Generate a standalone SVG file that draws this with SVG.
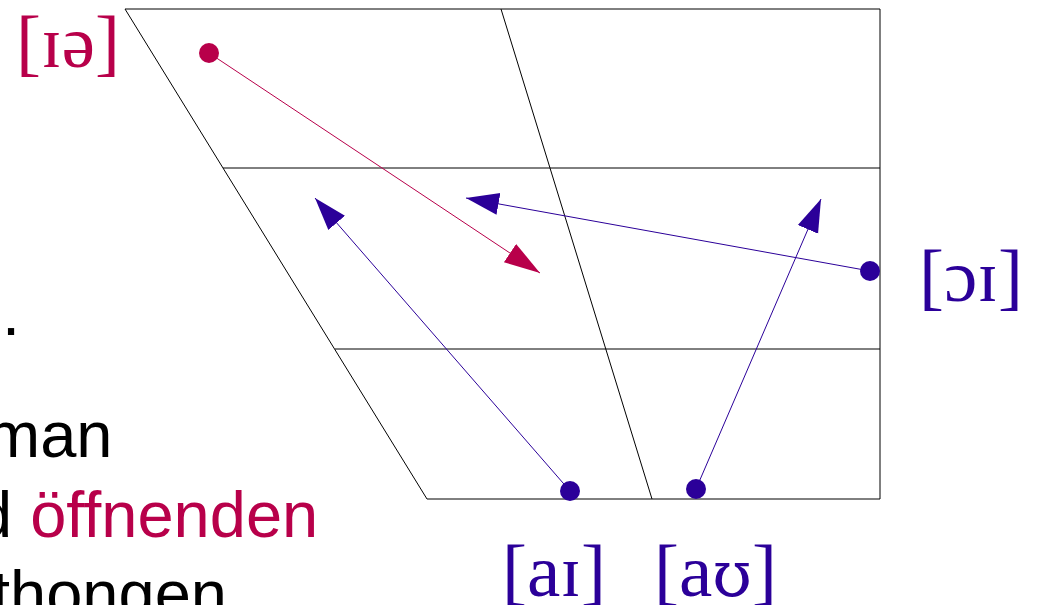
<svg xmlns="http://www.w3.org/2000/svg" width="1037" height="605" viewBox="0 0 1037 605">
<style>
.grid{stroke:#000;stroke-width:1;fill:none}
.ipa{font-family:"Liberation Serif",serif;font-size:75px}
.red{fill:#B8004A}
.blue{fill:#2B0099}
.body{font-family:"Liberation Sans",sans-serif;font-size:65px;fill:#000}
.lr{stroke:#B8004A;stroke-width:1}
.lb{stroke:#2B0099;stroke-width:1}
</style>
<defs>
<marker id="ah-red" markerUnits="userSpaceOnUse" markerWidth="40" markerHeight="30" viewBox="0 -15 40 30" refX="36" refY="0" orient="auto">
<path d="M0,-11 L36,0 L0,11 z" fill="#B8004A"/>
</marker>
<marker id="ah-blue" markerUnits="userSpaceOnUse" markerWidth="40" markerHeight="30" viewBox="0 -15 40 30" refX="33" refY="0" orient="auto">
<path d="M0,-11 L33,0 L0,11 z" fill="#2B0099"/>
</marker>
</defs>
<rect width="1037" height="605" fill="#fff"/>
<g id="chart">
<path class="grid" d="M125,9 L880,9 L880,499 L427,499 Z"/>
<line class="grid" x1="223" y1="168" x2="880" y2="168"/>
<line class="grid" x1="335" y1="349" x2="880" y2="349"/>
<line class="grid" x1="501" y1="9" x2="652" y2="499"/>
</g>
<g id="connectors">
<line class="lr" x1="209" y1="53" x2="540" y2="273" marker-end="url(#ah-red)"/>
<line class="lb" x1="870" y1="271" x2="466" y2="198" marker-end="url(#ah-blue)"/>
<line class="lb" x1="570" y1="491" x2="315" y2="198" marker-end="url(#ah-blue)"/>
<line class="lb" x1="696" y1="489" x2="821" y2="199" marker-end="url(#ah-blue)"/>
</g>
<g id="n-ie">
<circle class="red" cx="209" cy="53" r="10"/>
<text class="ipa red" x="16" y="67">[ɪə]</text>
</g>
<g id="n-oi">
<circle class="blue" cx="870" cy="271" r="10"/>
<text class="ipa blue" x="919" y="301">[ɔɪ]</text>
</g>
<g id="n-ai">
<circle class="blue" cx="570" cy="491" r="10"/>
<text class="ipa blue" x="502" y="596">[aɪ]</text>
</g>
<g id="n-au">
<circle class="blue" cx="696" cy="489" r="10"/>
<text class="ipa blue" x="654" y="596">[a<tspan font-family="DejaVu Serif" font-size="64">ʊ</tspan>]</text>
</g>
<g id="bodytext">
<text class="body" x="2" y="335">.</text>
<text class="body" x="-14" y="457">man</text>
<text class="body" x="-24" y="537">d <tspan fill="#B8004A">öffnenden</tspan></text>
<text class="body" x="-8" y="616">thongen</text>
</g>
</svg>
